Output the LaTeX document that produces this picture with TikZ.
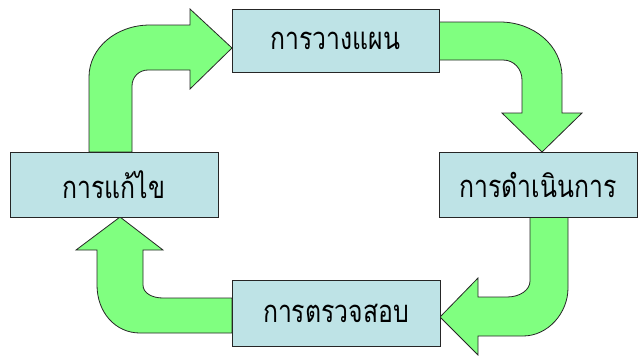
\documentclass[tikz,border=0pt]{standalone}
\usepackage{fontspec}
\newfontfamily\thaifont[Script=Thai,FakeStretch=0.8]{Loma}
\usepackage{xcolor}
\usepackage{tikz}
\usetikzlibrary{calc}
\usetikzlibrary{positioning}

\definecolor{boxcyan}{RGB}{190,227,230}
\definecolor{arrowgreen}{RGB}{128,255,128}

\tikzset{
  stagebox/.style={draw=black!85, fill=boxcyan, line width=0.9pt, inner sep=0pt,
    font=\thaifont\fontsize{31}{34}\selectfont},
  bentarrow/.style={draw=black!85, fill=arrowgreen, line width=0.8pt, line join=miter}
}

\begin{document}
\begin{tikzpicture}[x=1pt,y=-1pt]
\useasboundingbox (0,0) rectangle (639,357);
% block arrows
\draw [bentarrow] (89,152) -- (89,77) .. controls (89,48) and (116,25) .. (150,25) -- (190,25) -- (190,9) -- (232,48) -- (190,89) -- (190,70) -- (148,70) .. controls (139,70) and (132,77) .. (132,86) -- (132,152) -- cycle;
\draw [bentarrow] (439,22) -- (500,22) .. controls (533,22) and (562,45) .. (562,77) -- (562,113) -- (582,113) -- (542,152) -- (502,113) -- (522,113) -- (522,80) .. controls (522,69) and (514,60) .. (503,60) -- (439,60) -- cycle;
\draw [bentarrow] (530,217) -- (568,217) -- (568,288) .. controls (568,313) and (548,336) .. (523,336) -- (478,336) -- (478,355) -- (440,317) -- (478,278) -- (478,297) -- (507,297) .. controls (520,297) and (530,290) .. (530,281) -- cycle;
\draw [bentarrow] (232,298) -- (163,298) .. controls (152,298) and (143,293) .. (143,285) -- (143,250) -- (163,250) -- (120,217) -- (76,250) -- (97,250) -- (97,285) .. controls (97,312) and (115,333) .. (140,333) -- (232,333) -- cycle;
% stages
\node [stagebox, minimum width=207pt, minimum height=63pt] (plan) at (335.5,40.5) {การวางแผน};
\node [stagebox, minimum width=198pt, minimum height=65pt] (do) at (538,185) {การดำเนินการ};
\node [stagebox, minimum width=208pt, minimum height=66pt] (check) at (336,313) {การตรวจสอบ};
\node [stagebox, minimum width=208pt, minimum height=65pt] (fix) at (114,184.5) {การแก้ไข};
\end{tikzpicture}
\end{document}
